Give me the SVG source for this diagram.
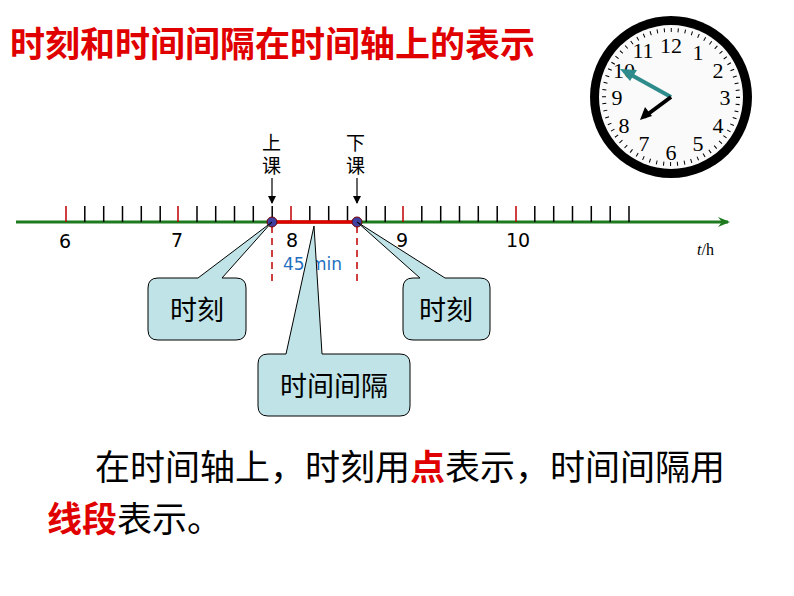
<svg xmlns="http://www.w3.org/2000/svg" width="794" height="596" viewBox="0 0 794 596">
<style>
.cjk{font-family:"Liberation Sans","Noto Sans CJK SC",sans-serif}
.box{fill:#bfe3e6;stroke:#000;stroke-width:1}
.mn{stroke:#000;stroke-width:1.5}
.mj{stroke:#c00000;stroke-width:1.5}
.ax{font-family:"DejaVu Sans",sans-serif;font-size:19px}
.cn{font-family:"Liberation Serif",serif;font-size:22px;text-anchor:middle}
</style>
<defs>
<marker id="ga" markerWidth="12" markerHeight="10" refX="10" refY="5" orient="auto" markerUnits="userSpaceOnUse"><path d="M0,0 L12,5 L0,10 L4,5z" fill="#1e7a1e"/></marker>
<marker id="ba" markerWidth="8" markerHeight="8" refX="7" refY="4" orient="auto" markerUnits="userSpaceOnUse"><path d="M0,0 L8,4 L0,8z" fill="#000"/></marker>
</defs>
<rect width="794" height="596" fill="#fff"/>
<text x="10" y="57" class="cjk" font-size="35" fill="#e00000" font-weight="bold">时刻和时间间隔在时间轴上的表示</text>
<g id="clock">
<circle cx="671" cy="97" r="81" fill="#000"/>
<circle cx="671" cy="97" r="72" fill="#fafafa"/>
<circle cx="671" cy="97" r="67" fill="none" stroke="#000" stroke-width="4" stroke-dasharray="1,6.0"/>
<text class="cn" x="671" y="53">12</text><text class="cn" x="698" y="60">1</text><text class="cn" x="718" y="78">2</text>
<text class="cn" x="725" y="105">3</text><text class="cn" x="718" y="133">4</text><text class="cn" x="698" y="151">5</text>
<text class="cn" x="671" y="160">6</text><text class="cn" x="644" y="151">7</text><text class="cn" x="624" y="133">8</text>
<text class="cn" x="617" y="105">9</text><text class="cn" x="624" y="78">10</text><text class="cn" x="643" y="58">11</text>
<line x1="671" y1="97" x2="626" y2="72" stroke="#2e8b8b" stroke-width="4"/>
<path d="M620,69 L637,70 L630,81z" fill="#2e8b8b"/>
<line x1="671" y1="97" x2="644" y2="117" stroke="#000" stroke-width="4"/>
<path d="M640,120 L645,107 L652,116z" fill="#000"/>
</g>
<g id="axis">
<line x1="16" y1="222" x2="728" y2="222" stroke="#1e7a1e" stroke-width="3" marker-end="url(#ga)"/>
<g class="mn">
<path d="M84.8,206v16M103.7,206v16M122.5,206v16M141.3,206v16M160.2,206v16M197,206v16M215.7,206v16M234.5,206v16M253.3,206v16M272.2,206v16M309.8,206v16M328.7,206v16M347.5,206v16M366.3,206v16M385.2,206v16M421.8,206v16M440.7,206v16M459.5,206v16M478.3,206v16M497.2,206v16M534.8,206v16M553.7,206v16M572.5,206v16M591.3,206v16M610.2,206v16M629,206v16"/>
</g>
<g class="mj"><path d="M66,206v16M178,206v16M291,206v16M403,206v16M516,206v16"/></g>
<line x1="272" y1="222" x2="357" y2="222" stroke="#e00000" stroke-width="3.5"/>
<path d="M272,226V282M357,226V282" stroke="#c00000" stroke-width="1.5" stroke-dasharray="7,5"/>
<circle cx="272" cy="222" r="5" fill="#4040a0" stroke="#700" stroke-width="1"/>
<circle cx="357" cy="222" r="5" fill="#4040a0" stroke="#700" stroke-width="1"/>
<text class="ax" x="59" y="248">6</text><text class="ax" x="171" y="247">7</text><text class="ax" x="286" y="247">8</text>
<text class="ax" x="396" y="247">9</text><text class="ax" x="506" y="247">10</text>
<text x="697" y="255" font-family="Liberation Serif,serif" font-size="16"><tspan font-style="italic">t</tspan>/h</text>
<text x="283" y="270" font-family="DejaVu Sans,sans-serif" font-size="17" fill="#1f6fbf">45 min</text>
</g>
<g id="labels" class="cjk" font-size="19">
<text x="262" y="150">上</text><text x="262" y="173">课</text>
<text x="346" y="150">下</text><text x="346" y="173">课</text>
<line x1="272" y1="178" x2="272" y2="203" stroke="#000" stroke-width="1.2" marker-end="url(#ba)"/>
<line x1="357" y1="178" x2="357" y2="203" stroke="#000" stroke-width="1.2" marker-end="url(#ba)"/>
</g>
<g id="c1"><path class="box" d="M158,278 H198 L272,222 L222,278 H236 Q246,278 246,288 V330 Q246,340 236,340 H158 Q148,340 148,330 V288 Q148,278 158,278z"/>
<text x="197" y="320" class="cjk" font-size="27" text-anchor="middle">时刻</text></g>
<g id="c2"><path class="box" d="M413,278 H420 L357,222 L445,278 H480 Q490,278 490,288 V330 Q490,340 480,340 H413 Q403,340 403,330 V288 Q403,278 413,278z"/>
<text x="446" y="320" class="cjk" font-size="27" text-anchor="middle">时刻</text></g>
<g id="c3"><path class="box" d="M268,354 H286 L314,226 L322,354 H400 Q410,354 410,364 V406 Q410,416 400,416 H268 Q258,416 258,406 V364 Q258,354 268,354z"/>
<text x="334" y="396" class="cjk" font-size="27" text-anchor="middle">时间间隔</text></g>
<g id="text" class="cjk" font-size="35">
<text x="95" y="480">在时间轴上，时刻用<tspan fill="#e00000" font-weight="bold">点</tspan>表示，时间间隔用</text>
<text x="47" y="532"><tspan fill="#e00000" font-weight="bold">线段</tspan>表示。</text>
</g>
</svg>
